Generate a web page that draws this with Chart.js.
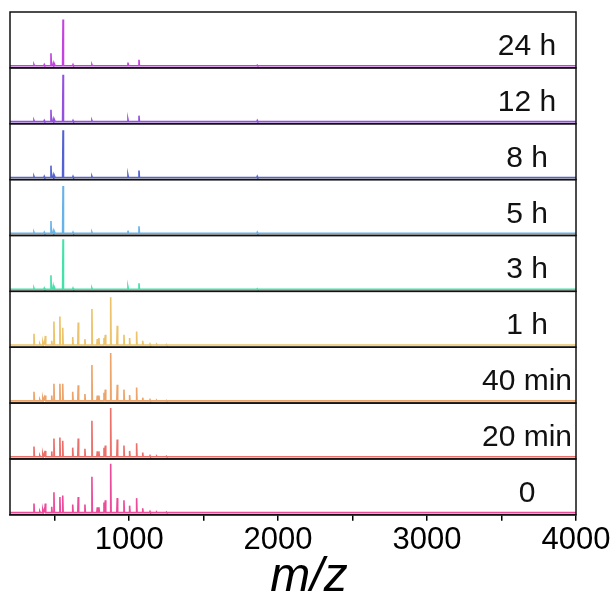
<!DOCTYPE html>
<html>
<head>
<meta charset="utf-8">
<script src="https://cdn.jsdelivr.net/npm/chart.js@4.4.0/dist/chart.umd.min.js"></script>
<style>
  html, body { margin: 0; padding: 0; background: #fff; }
</style>
</head>
<body>
<canvas id="ms" width="613" height="592"></canvas>
<script>
// panels from top to bottom
const timeLabels = ["24 h", "12 h", "8 h", "5 h", "3 h", "1 h", "40 min", "20 min", "0"];
const lineColors = ["#c443e0", "#9550e0", "#5262d2", "#68b2ea", "#44e2aa", "#ecc26a", "#eca46a", "#ec706a", "#ec4a9a"];

// x axis tick positions (only the thousands get a label)
const xTicks = [500, 1000, 1500, 2000, 2500, 3000, 3500, 4000];
const xTitle = "m/z";

// peaks of the late samples (3 h .. 24 h)
const mzLate = [361, 430, 475, 490, 500, 556, 623, 750, 992, 1066, 1860];
const h24 = [2, 2, 23, 4, 2, 86, 2, 2, 6, 11, 1];
const h12 = [2, 2, 22, 4, 2, 87, 2, 2, 4, 11, 2];
const h8 = [2, 2, 22, 4, 2, 88, 2, 2, 4, 13, 2];
const h5 = [2, 2, 23, 4, 2, 88, 2, 2, 5, 13, 2];
const h3 = [2, 2, 26, 5, 2, 93, 2, 2, 4, 11, 1];

// peaks of the early samples (0 .. 1 h)
const mzEarly = [361, 400, 420, 430, 437, 480, 495, 535, 554, 621, 658, 703, 750, 786, 797, 831, 840, 876, 920, 965, 1003, 1050, 1091, 1140, 1185, 1250];
const h1 = [21, 2, 4, 6, 17, 8, 44, 53, 32, 15, 42, 11, 67, 11, 13, 13, 19, 89, 36, 19, 13, 25, 8, 2, 1, 1];
const h40m = [17, 2, 4, 6, 10, 10, 32, 32, 32, 17, 29, 13, 67, 10, 10, 15, 21, 89, 30, 21, 11, 25, 6, 2, 1, 1];
const h20m = [19, 2, 4, 6, 11, 10, 34, 36, 30, 17, 34, 15, 67, 10, 10, 17, 21, 91, 32, 21, 11, 25, 8, 2, 1, 1];
const h0 = [17, 2, 4, 6, 17, 11, 38, 29, 32, 15, 29, 15, 67, 10, 10, 19, 23, 91, 27, 23, 13, 27, 8, 2, 1, 1];

const spectra = [
  [mzLate, h24], [mzLate, h12], [mzLate, h8], [mzLate, h5], [mzLate, h3],
  [mzEarly, h1], [mzEarly, h40m], [mzEarly, h20m], [mzEarly, h0]
];

const xMin = 200, xMax = 4000;

// stick spectrum: flat baseline with a thin spike at each peak
function sticks(mz, h) {
  const pts = [{x: xMin, y: 0}];
  mz.forEach((m, i) => {
    pts.push({x: m - 3, y: 0}, {x: m, y: h[i]}, {x: m + 3, y: 0});
  });
  pts.push({x: xMax, y: 0});
  return pts;
}

const datasets = spectra.map((s, i) => ({
  label: timeLabels[i],
  data: sticks(s[0], s[1]),
  borderColor: lineColors[i],
  borderWidth: 1.6,
  pointRadius: 0,
  tension: 0,
  yAxisID: "y" + i
}));

const scales = {
  x: {
    type: "linear",
    min: xMin,
    max: xMax,
    position: "bottom",
    afterBuildTicks: s => { s.ticks = xTicks.map(v => ({value: v})); },
    ticks: {
      autoSkip: false,
      maxRotation: 0,
      padding: 1,
      color: "#000",
      font: {family: "Liberation Sans", size: 31},
      callback: v => (v % 1000 === 0 ? String(v) : "")
    },
    grid: {drawOnChartArea: false, tickLength: 6, color: "#000", lineWidth: 1.5},
    border: {color: "#000", width: 1.5}
  }
};
// stacked scales are laid out last-defined-on-top, so add them bottom first
for (let i = timeLabels.length - 1; i >= 0; i--) {
  scales["y" + i] = {
    type: "linear",
    min: -4,
    max: 100,
    position: "left",
    stack: "panels",
    stackWeight: 1,
    ticks: {display: false},
    grid: {display: false},
    border: {display: false}
  };
}

// black box round every panel, its time label, and the m/z title
const panelFrames = {
  id: "panelFrames",
  afterDatasetsDraw(chart) {
    const ctx = chart.ctx;
    const area = chart.chartArea;
    ctx.save();
    ctx.strokeStyle = "#111";
    ctx.lineWidth = 1.5;
    ctx.fillStyle = "#111";
    ctx.font = "30px 'Liberation Sans'";
    ctx.textAlign = "center";
    ctx.textBaseline = "alphabetic";
    timeLabels.forEach((t, i) => {
      const ys = chart.scales["y" + i];
      ctx.strokeRect(area.left, ys.top, area.right - area.left, ys.bottom - ys.top);
      ctx.fillText(t, 527, ys.top + 43);
    });
    ctx.fillStyle = "#000";
    ctx.font = "italic 48px 'Liberation Sans'";
    ctx.fillText(xTitle, 309, 591);
    ctx.restore();
  }
};

new Chart(document.getElementById("ms"), {
  type: "line",
  data: {datasets: datasets},
  options: {
    responsive: false,
    animation: false,
    layout: {autoPadding: false, padding: {left: 2, right: 37, top: 12, bottom: 32}},
    plugins: {legend: {display: false}, tooltip: {enabled: false}},
    scales: scales
  },
  plugins: [panelFrames]
});
</script>
</body>
</html>
